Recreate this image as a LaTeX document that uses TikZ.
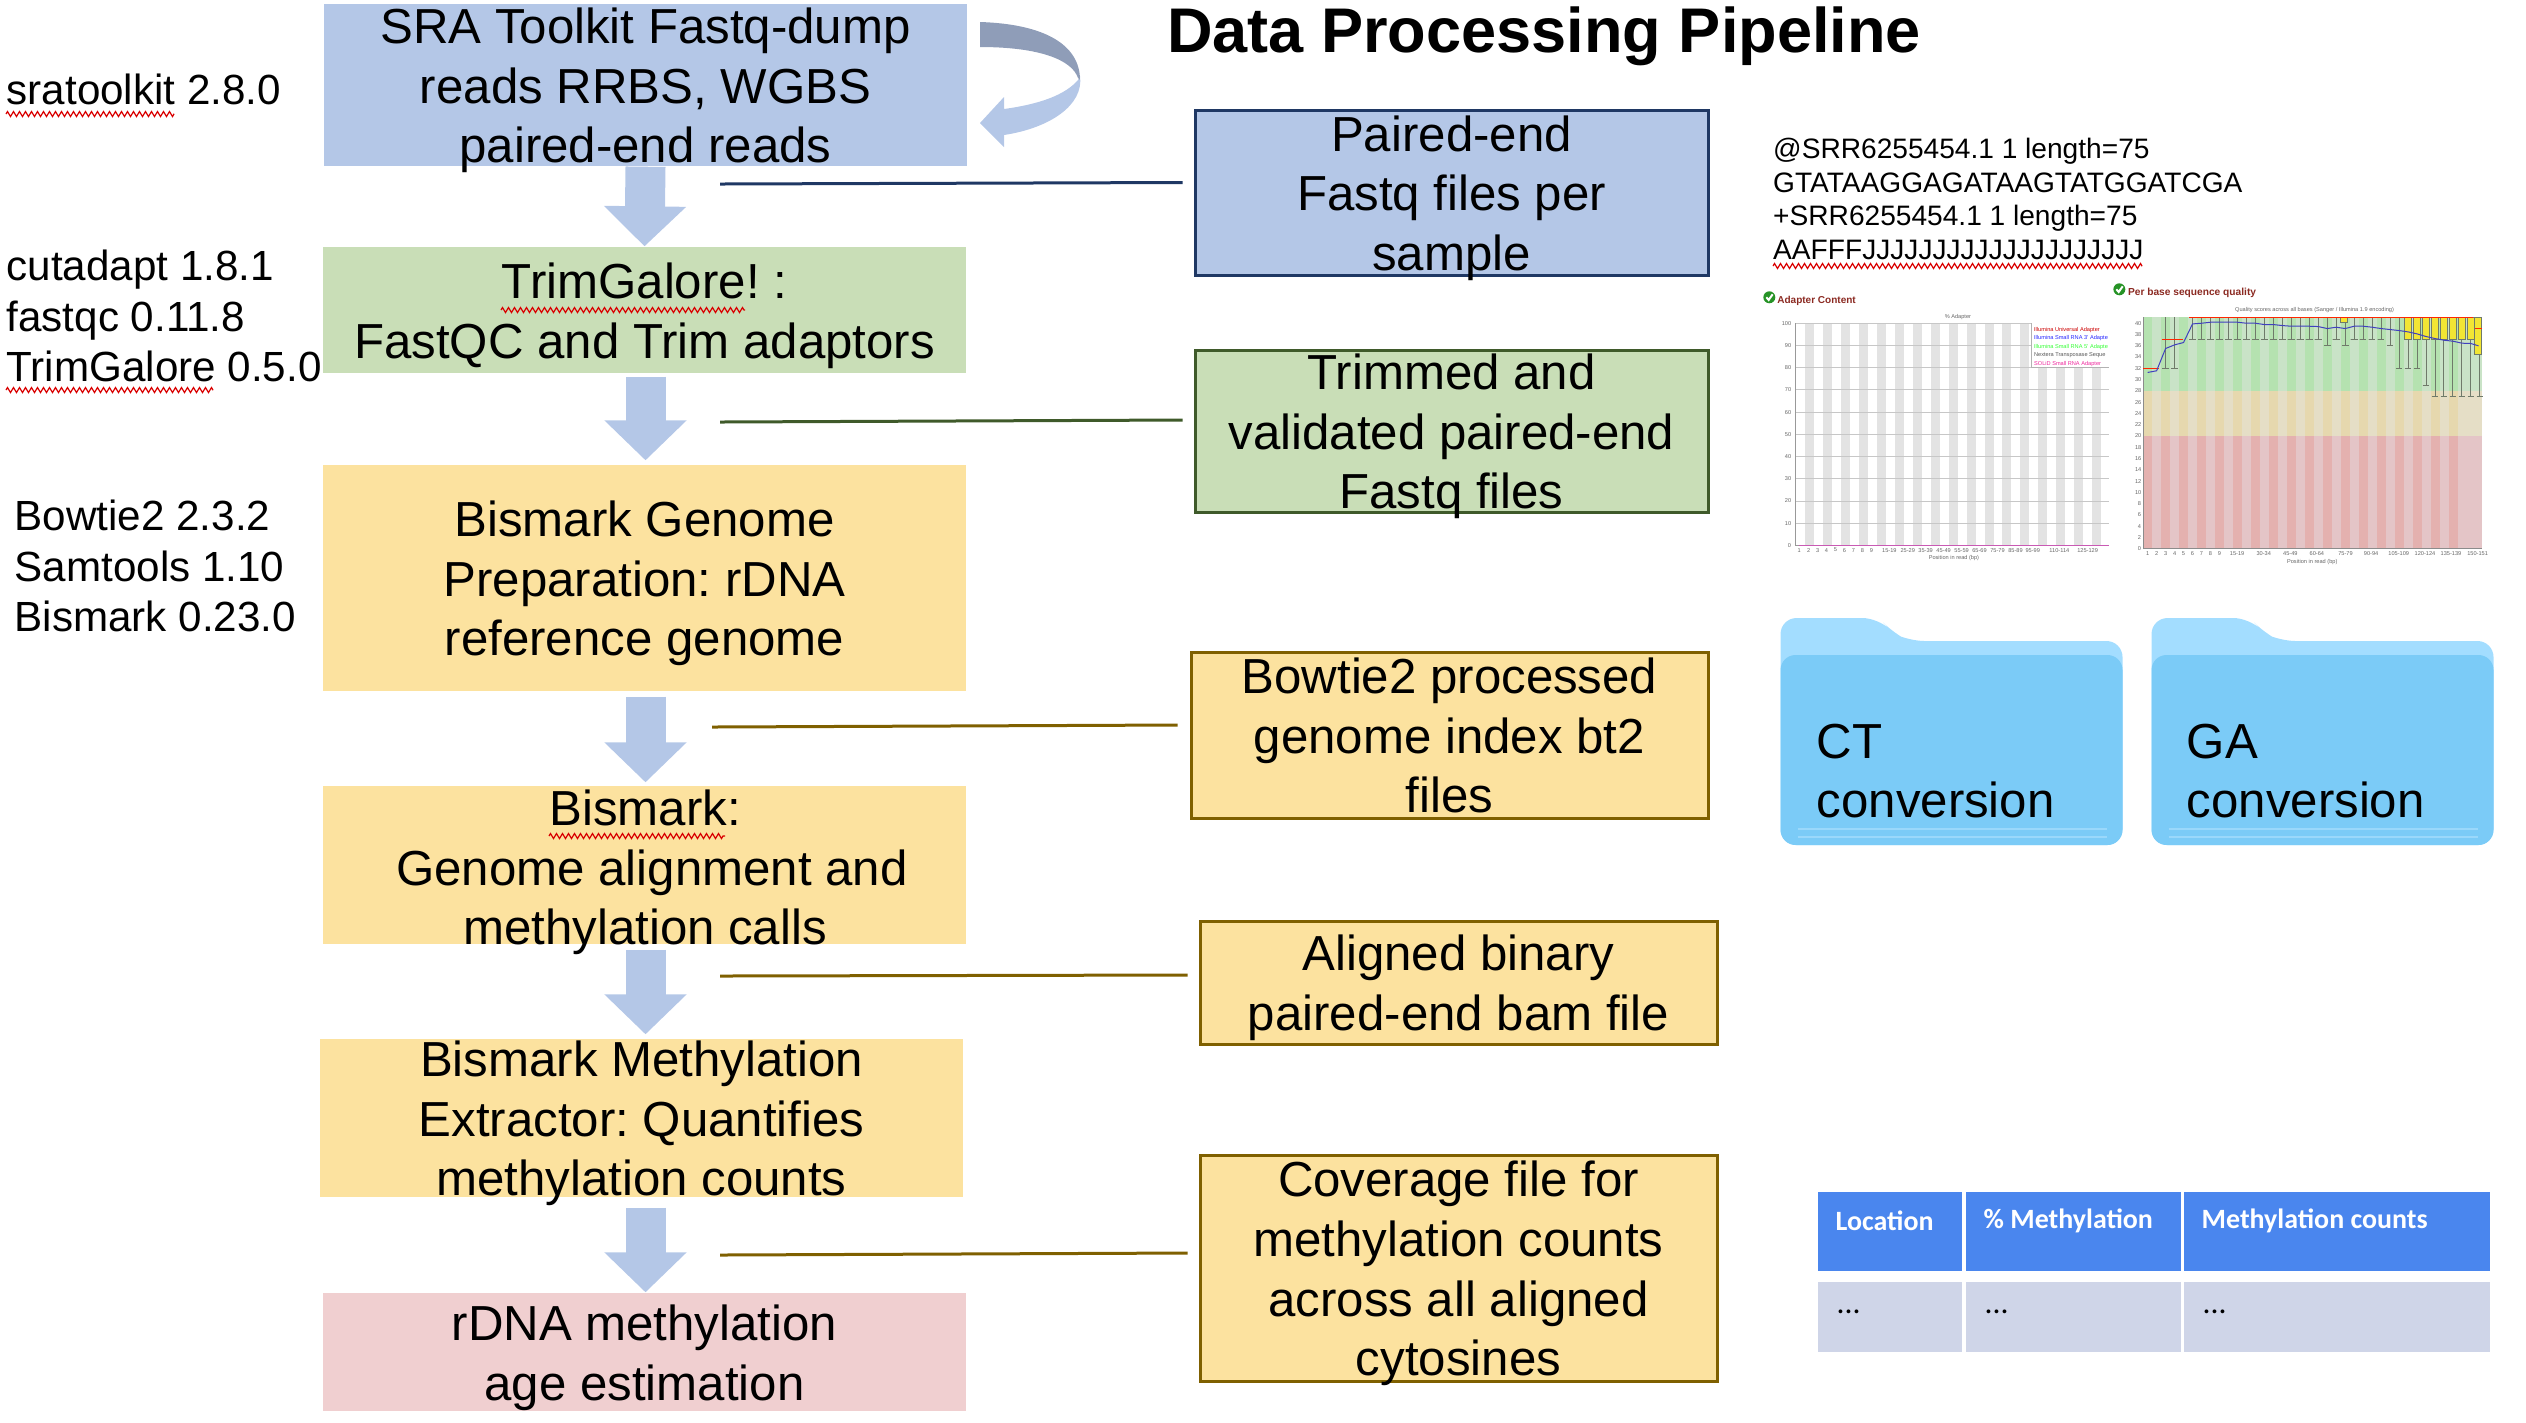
\documentclass[tikz,border=0pt]{standalone}
\usepackage{fontspec}
\setmainfont{Liberation Sans}
\newfontfamily\tablefont{Carlito}
\usetikzlibrary{arrows.meta, positioning, calc, decorations.pathmorphing}
\definecolor{BoxBlue}{HTML}{B4C7E7}
\definecolor{LoopBack}{HTML}{8F9DB8}
\definecolor{BoxGreen}{HTML}{C9DEB7}
\definecolor{BoxGold}{HTML}{FCE29F}
\definecolor{BoxPink}{HTML}{F0CFD0}
\definecolor{LineNavy}{HTML}{1F3864}
\definecolor{LineGreen}{HTML}{3F5A2A}
\definecolor{LineGold}{HTML}{7F6000}
\definecolor{FolderBack}{HTML}{A3DDFF}
\definecolor{FolderFront}{HTML}{7BCBF7}
\definecolor{FolderLine}{HTML}{9AD8FB}
\definecolor{TableHead}{HTML}{4A86EE}
\definecolor{TableRow}{HTML}{CFD5E8}
\definecolor{TitleRed}{HTML}{8B2A22}
\definecolor{GoodDark}{HTML}{B5E2B0}
\definecolor{GoodLight}{HTML}{C9E3C7}
\definecolor{WarnDark}{HTML}{E6D8AE}
\definecolor{WarnLight}{HTML}{E5DEC6}
\definecolor{BadDark}{HTML}{E4B1AF}
\definecolor{BadLight}{HTML}{E4C5C7}
\definecolor{Whisker}{HTML}{6F7A6A}
\definecolor{BoxYellow}{HTML}{F2E534}
\newcommand{\whisker}[2]{%
  \pgfmathsetmacro{\wx}{83+27*(#1-1)}
  \draw[whiskerline] (\wx,142) -- (\wx,#2);
  \draw[whiskerline] (\wx-10,#2) -- (\wx+10,#2);
}
\newcommand{\okmark}[2]{%
  \fill[green!50!black!85] (#1,#2) circle (18);
  \draw[white, line width=0.02cm] (#1-9,#2) -- (#1-2,#2+8) -- (#1+10,#2-9);
}

\begin{document}
\begin{tikzpicture}[>=Stealth,
  stepbox/.style={rectangle, inner sep=0pt},
  outbox/.style={rectangle, inner sep=0pt, line width=0.03cm},
  boxtext/.style={align=center, inner sep=0pt, yshift=-0.055cm, font=\fontsize{14}{16.96}\selectfont\frenchspacing},
  toollist/.style={align=left, inner sep=0pt, anchor=west, font=\fontsize{12}{14.4}\selectfont},
  blockarrow/.style={-{Triangle[width=0.8cm, length=0.4cm]}, line width=0.4cm, BoxBlue},
  outline/.style={line width=0.03cm},
  squiggle/.style={red!85!black, line width=0.012cm, decorate,
                   decoration={zigzag, amplitude=0.025cm, segment length=0.06cm}},
  foldertext/.style={align=left, inner sep=0pt, anchor=west, font=\fontsize{14}{16.96}\selectfont},
  headcell/.style={rectangle, inner sep=0pt, anchor=north west, fill=TableHead},
  rowcell/.style={rectangle, inner sep=0pt, anchor=north west, fill=TableRow},
  chartfont/.style={inner sep=0pt, font=\fontsize{1.6}{1.9}\selectfont, text=black!60},
  whiskerline/.style={line width=0.01cm, Whisker},
  boxplot/.style={fill=BoxYellow, draw=Whisker, line width=0.01cm},
  folder/.pic={
    \fill[FolderBack, rounded corners=0.16cm] (0,-2.27) -- (0,0) -- (0.98,0)
      -- (1.14,-0.16) -- (1.28,-0.23) -- (3.42,-0.23) -- (3.42,-2.27) -- cycle;
    \fill[FolderFront, rounded corners=0.15cm] (0,-2.27) -- (0,-0.37) -- (3.42,-0.37) -- (3.42,-2.27) -- cycle;
    \foreach \ly in {-2.11,-2.19}
      \draw[FolderLine, line width=0.015cm] (0.17,\ly) -- (3.26,\ly);
  }]
  \useasboundingbox (0,0) rectangle (25.26,-14.22);

  % Pipeline steps
  \node[stepbox, fill=BoxBlue, minimum width=6.43cm, minimum height=1.62cm] (fastq) at (6.455,-0.85) {};
  \node[stepbox, fill=BoxGreen, minimum width=6.43cm, minimum height=1.26cm] (trim) at (6.445,-3.10) {};
  \node[stepbox, fill=BoxGold, minimum width=6.43cm, minimum height=2.26cm] (genome) at (6.445,-5.78) {};
  \node[stepbox, fill=BoxGold, minimum width=6.43cm, minimum height=1.58cm] (align) at (6.445,-8.65) {};
  \node[stepbox, fill=BoxGold, minimum width=6.43cm, minimum height=1.58cm] (extract) at (6.415,-11.18) {};
  \node[stepbox, fill=BoxPink, minimum width=6.43cm, minimum height=1.18cm] (age) at (6.445,-13.52) {};

  % Block arrows
  \draw[blockarrow] (fastq.south) -- (trim.north);
  \draw[blockarrow, shorten <=0.03cm] (trim.south -| fastq.south) -- ([yshift=0.04cm]genome.north -| fastq.south);
  \draw[blockarrow, shorten <=0.05cm] (genome.south -| fastq.south) -- ([yshift=0.03cm]align.north -| fastq.south);
  \draw[blockarrow, shorten <=0.05cm] (align.south -| fastq.south) -- ([yshift=0.04cm]extract.north -| fastq.south);
  \draw[blockarrow, shorten <=0.1cm] (extract.south -| fastq.south) -- (age.north -| fastq.south);

  % Step labels
  \node[boxtext] (fastqtext) at (fastq) {SRA Toolkit Fastq-dump\\ reads RRBS, WGBS\\ paired-end reads};
  \node[boxtext] (trimtext) at (trim) {TrimGalore! :\\ FastQC and Trim adaptors};
  \node[boxtext] (genometext) at (genome) {Bismark Genome\\ Preparation: rDNA\\ reference genome};
  \node[boxtext] (aligntext) at (6.45,-8.67) {Bismark:\\ \hspace*{0.14cm}Genome alignment and\\ methylation calls};
  \node[boxtext] (extracttext) at (extract) {Bismark Methylation\\ Extractor: Quantifies\\ methylation counts};
  \node[boxtext] (agetext) at (age) {rDNA methylation\\ age estimation};

  % Self-loop on the first step
  \fill[BoxBlue] (10.80,-0.76) .. controls (10.84,-1.05) and (10.5,-1.28) .. (10.04,-1.35)
    -- (10.04,-1.47) -- (9.80,-1.23) -- (10.04,-0.97) -- (10.04,-1.09)
    .. controls (10.4,-1.04) and (10.65,-0.95) .. (10.78,-0.80) -- cycle;
  \fill[LoopBack] (9.80,-0.22) .. controls (10.45,-0.24) and (10.8,-0.45) .. (10.80,-0.80)
    -- (10.78,-0.78) .. controls (10.72,-0.6) and (10.4,-0.47) .. (9.80,-0.47) -- cycle;

  % Tool versions
  \node[toollist] (sra) at (0.06,-0.89) {sratoolkit 2.8.0};
  \node[toollist] (qc) at (0.06,-3.16) {cutadapt 1.8.1\\ fastqc 0.11.8\\ TrimGalore 0.5.0};
  \node[toollist] (bis) at (0.14,-5.66) {Bowtie2 2.3.2\\ Samtools 1.10\\ Bismark 0.23.0};

  % Spelling marks
  \foreach \xa/\xb/\uy in {0.06/1.74/-1.14, 0.06/2.13/-3.90, 5.01/7.45/-3.10, 5.49/7.25/-8.36, 17.73/21.42/-2.66}
    \draw[squiggle] (\xa,\uy) -- (\xb,\uy);

  % Outputs
  \node[outbox, draw=LineNavy, fill=BoxBlue, minimum width=5.13cm, minimum height=1.65cm] (pairs) at (14.515,-1.925) {};
  \node[outbox, draw=LineGreen, fill=BoxGreen, minimum width=5.13cm, minimum height=1.62cm] (valid) at (14.515,-4.31) {};
  \node[outbox, draw=LineGold, fill=BoxGold, minimum width=5.17cm, minimum height=1.66cm] (index) at (14.495,-7.35) {};
  \node[outbox, draw=LineGold, fill=BoxGold, minimum width=5.17cm, minimum height=1.23cm] (bam) at (14.585,-9.825) {};
  \node[outbox, draw=LineGold, fill=BoxGold, minimum width=5.17cm, minimum height=2.26cm] (cov) at (14.585,-12.68) {};
  \node[boxtext] (pairstext) at (pairs) {Paired-end\\ Fastq files per\\ sample};
  \node[boxtext] (validtext) at (valid) {Trimmed and\\ validated paired-end\\ Fastq files};
  \node[boxtext] (indextext) at ([yshift=0.05cm]index) {Bowtie2 processed\\ genome index bt2\\ files};
  \node[boxtext] (bamtext) at (bam) {Aligned binary\\ paired-end bam file};
  \node[boxtext] (covtext) at (cov) {Coverage file for\\ methylation counts\\ across all aligned\\ cytosines};

  % Leader lines
  \coordinate (fromfastq) at (7.20,-1.84);
  \coordinate (fromtrim) at (7.20,-4.22);
  \coordinate (fromgenome) at (7.12,-7.27);
  \coordinate (fromalign) at (7.20,-9.76);
  \coordinate (fromextract) at (7.20,-12.55);
  \draw[outline, LineNavy] (fromfastq) -- ([shift={(-0.11,0.10)}]pairs.west);
  \draw[outline, LineGreen] (fromtrim) -- ([shift={(-0.11,0.11)}]valid.west);
  \draw[outline, LineGold] (fromgenome) -- ([shift={(-0.12,0.10)}]index.west);
  \draw[outline, LineGold] (fromalign) -- ([shift={(-0.11,0.075)}]bam.west);
  \draw[outline, LineGold] (fromextract) -- ([shift={(-0.11,0.15)}]cov.west);

  % Title and read record
  \node[inner sep=0pt, font=\fontsize{17.95}{20}\bfseries\selectfont] (title) at (15.44,-0.36) {Data Processing Pipeline};
  \node[inner sep=0pt, anchor=west, align=left, font=\fontsize{8}{9.59}\selectfont] (record) at (17.725,-1.99)
    {@SRR6255454.1 1 length=75\\ GTATAAGGAGATAAGTATGGATCGA\\ +SRR6255454.1 1 length=75\\ AAFFFJJJJJJJJJJJJJJJJJJJJ};

  % Adapter content chart
  \begin{scope}[shift={(17.6,-2.7)}, x=0.003333cm, y=-0.003333cm]
    \foreach \sx in {135,189,...,1000}
      \fill[black!11] (\sx,160) rectangle (\sx+27,828);
    \foreach \gy in {160,226.8,...,830}
      \draw[black!22, line width=0.008cm] (106,\gy) -- (1050,\gy);
    \draw[black!40, line width=0.012cm] (106,160) -- (106,828) -- (1050,828);
    \fill[white] (817,160) rectangle (1050,292);
    \draw[black!30, line width=0.006cm] (817,160) -- (817,292) -- (1050,292);
    \draw[magenta!70!blue!65, line width=0.018cm] (118,828) -- (1050,828);
    \okmark{28}{82}
    \node[inner sep=0pt, anchor=west, text=TitleRed, font=\fontsize{2.85}{3.4}\bfseries\selectfont] (adapttitle) at (50,92) {Adapter Content};
    \node[chartfont] (adaptaxis) at (595,142) {\% Adapter};
    \node[chartfont] (adaptpos) at (583,867) {Position in read (bp)};
    \foreach \val [count=\vi from 0] in {0,10,...,100}
      \node[chartfont, anchor=east] (adapty\vi) at (96,828-66.8*\vi) {\val};
    \foreach \tx/\tl [count=\ti] in {118/1,146/2,173/3,200/4,227/5,254/6,281/7,308/8,335/9,389/15-19,444/25-29,498/35-39,552/45-49,606/55-59,660/65-69,714/75-79,768/85-89,820/95-99,900/110-114,985/125-129}
      \node[chartfont] (adaptx\ti) at (\tx,842) {\tl};
    \foreach \ey/\ecol/\etxt [count=\ei] in {180/red!80!black/Illumina Universal Adapter, 205/blue!85/Illumina Small RNA 3' Adapte, 231/green!80/Illumina Small RNA 5' Adapte, 257/black!65/Nextera Transposase Seque, 283/magenta!85/SOLiD Small RNA Adapter}
      \node[chartfont, anchor=west, text=\ecol] (adaptkey\ei) at (822,\ey) {\etxt};
  \end{scope}

  % Per base quality chart
  \begin{scope}[shift={(21.2,-2.7)}, x=0.003333cm, y=-0.003333cm]
    \fill[GoodLight] (70,142) rectangle (1088,363);
    \fill[WarnLight] (70,363) rectangle (1088,500);
    \fill[BadLight] (70,500) rectangle (1088,838);
    \foreach \sx in {70,124,...,1040}{
      \fill[GoodDark] (\sx,142) rectangle (\sx+27,363);
      \fill[WarnDark] (\sx,363) rectangle (\sx+27,500);
      \fill[BadDark] (\sx,500) rectangle (\sx+27,838);
    }
    \draw[black!45, line width=0.012cm] (70,142) -- (70,838) -- (1088,838);
    \foreach \col/\low in {3/296,4/296,21/228,23/228,28/228,29/296,30/296,31/296,32/346,33/380,34/380,35/380,36/380,37/380,38/380}
      \whisker{\col}{\low}
    \foreach \col in {6,...,20,22,24,25,26,27}
      \whisker{\col}{210}
    \foreach \col in {30,...,37}{
      \pgfmathsetmacro{\bx}{83+27*(\col-1)}
      \draw[boxplot] (\bx-11,142) rectangle (\bx+11,210);
    }
    \draw[boxplot] (663,142) rectangle (685,157);
    \draw[boxplot] (1066,142) rectangle (1088,253);
    \draw[red!70!orange, line width=0.008cm] (70,296) -- (118,296);
    \draw[red!70!orange, line width=0.008cm] (125,210) -- (190,210);
    \draw[red!70!orange, line width=0.008cm] (207,142) -- (1060,142);
    \draw[red!70!orange, line width=0.008cm] (1066,176) -- (1088,176);
    \draw[blue!50!gray, line width=0.01cm] plot coordinates {(83,308) (110,303) (137,236) (164,225) (191,218) (218,162) (245,160) (272,157) (299,157) (326,157) (353,157) (380,160) (407,160) (434,164) (461,164) (488,167) (515,169) (542,169) (569,169) (596,170) (623,176) (650,172) (677,176) (704,169) (731,169) (758,172) (785,176) (812,179) (839,182) (866,186) (893,192) (920,200) (947,206) (974,211) (1001,214) (1028,220) (1055,221) (1078,228)};
    \okmark{-2}{58}
    \node[inner sep=0pt, anchor=west, text=TitleRed, font=\fontsize{2.9}{3.4}\bfseries\selectfont] (qualtitle) at (22,70) {Per base sequence quality};
    \node[chartfont] (qualaxis) at (585,121) {Quality scores across all bases (Sanger / Illumina 1.9 encoding)};
    \node[chartfont] (qualpos) at (578,878) {Position in read (bp)};
    \foreach \val in {0,2,...,40}
      \node[chartfont, anchor=east] (qualy\val) at (66,838-16.95*\val) {\val};
    \foreach \tx/\tl [count=\ti] in {83/1,110/2,137/3,164/4,191/5,218/6,245/7,272/8,299/9,352/15-19,432/30-34,512/45-49,592/60-64,678/75-79,755/90-94,838/105-109,917/120-124,995/135-139,1075/150-151}
      \node[chartfont] (qualx\ti) at (\tx,852) {\tl};
  \end{scope}

  % Conversion folders
  \pic at (17.805,-6.18) {folder};
  \pic at (21.515,-6.18) {folder};
  \node[foldertext] (ctfolder) at (18.16,-7.71) {CT\\ conversion};
  \node[foldertext] (gafolder) at (21.86,-7.71) {GA\\ conversion};

  % Coverage table
  \foreach \cx/\cw/\cname/\ctxt in {18.17/1.44/loc/Location, 19.65/2.15/pct/\% Methylation, 21.83/3.06/cnt/Methylation counts}{
    \node[headcell, minimum width=\cw cm, minimum height=0.79cm] (head\cname) at (\cx,-11.91) {};
    \node[rowcell, minimum width=\cw cm, minimum height=0.70cm] (row\cname) at (\cx,-12.81) {};
    \node[inner sep=0pt, anchor=west, text=white, font=\tablefont\fontsize{7.95}{10}\bfseries\selectfont] (headtext\cname) at ([shift={(0.18,-0.30)}]head\cname.north west) {\ctxt};
    \node[inner sep=0pt, anchor=west, font=\tablefont\fontsize{9}{10}\selectfont] (rowtext\cname) at ([shift={(0.19,-0.31)}]row\cname.north west) {...};
  }
\end{tikzpicture}
\end{document}
